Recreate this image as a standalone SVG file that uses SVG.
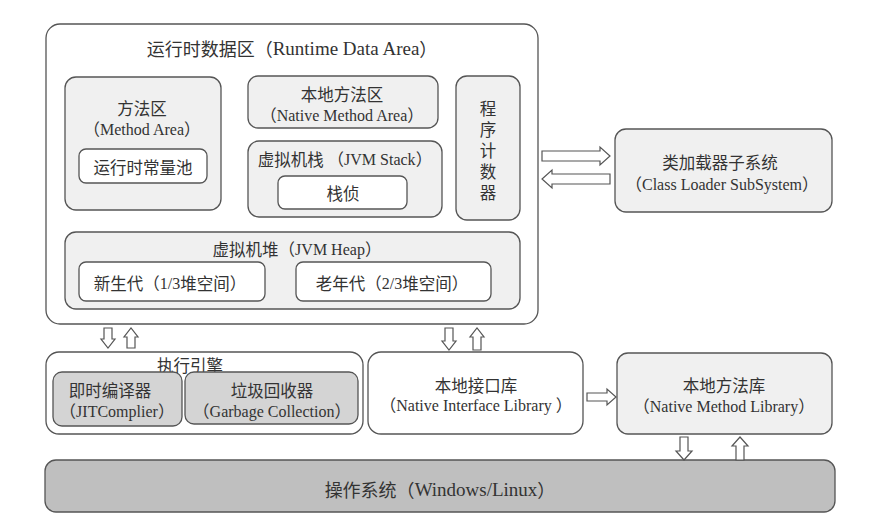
<svg xmlns="http://www.w3.org/2000/svg" width="892" height="530" viewBox="0 0 892 530">
<style>
.b{stroke:#555;stroke-width:1.3}
.w{fill:#fff}
.l{fill:#f0f0f0}
.g{fill:#d4d4d4}
.os{fill:#bfbfbf}
text{font-family:"Noto Sans CJK SC",sans-serif;font-size:16.5px;fill:#333;text-anchor:middle;dominant-baseline:central}
.e{font-family:"Liberation Serif","DejaVu Serif",serif;font-size:16px}
.t{font-size:18px}
.t .e{font-size:19px}
.v{writing-mode:vertical-rl;letter-spacing:4.5px}
.a{fill:#fff;stroke:#555;stroke-width:1.2}
</style>
<rect width="892" height="530" fill="#fff"/>
<g id="runtime">
<rect class="b w" x="46" y="24" width="492" height="300" rx="14"/>
<text class="t" x="292" y="48">运行时数据区（<tspan class="e">Runtime Data Area</tspan>）</text>
</g>
<g id="method-area">
<rect class="b l" x="65" y="77" width="156" height="133" rx="11"/>
<text x="142" y="108">方法区</text>
<text x="142" y="129">（<tspan class="e">Method Area</tspan>）</text>
</g>
<g id="constant-pool">
<rect class="b w" x="79" y="149" width="128" height="34" rx="7"/>
<text x="143" y="167">运行时常量池</text>
</g>
<g id="native-method-area">
<rect class="b l" x="248" y="76" width="190" height="52" rx="10"/>
<text x="342" y="94">本地方法区</text>
<text x="342" y="115">（<tspan class="e">Native Method Area</tspan>）</text>
</g>
<g id="jvm-stack">
<rect class="b l" x="248" y="141" width="194" height="76" rx="11"/>
<text x="345" y="159">虚拟机栈 （<tspan class="e">JVM Stack</tspan>）</text>
</g>
<g id="stack-frame">
<rect class="b w" x="278" y="176" width="129" height="33" rx="7"/>
<text x="343" y="193">栈侦</text>
</g>
<g id="pc">
<rect class="b l" x="456" y="76" width="64" height="144" rx="11"/>
<text class="v" x="488" y="153">程序计数器</text>
</g>
<g id="heap">
<rect class="b l" x="65" y="232" width="455" height="77" rx="11"/>
<text x="297" y="249">虚拟机堆（<tspan class="e">JVM Heap</tspan>）</text>
</g>
<g id="young">
<rect class="b w" x="79" y="262" width="186" height="39" rx="7"/>
<text x="170" y="283">新生代（<tspan class="e">1/3</tspan>堆空间）</text>
</g>
<g id="old">
<rect class="b w" x="296" y="262" width="195" height="39" rx="7"/>
<text x="392" y="283">老年代（<tspan class="e">2/3</tspan>堆空间）</text>
</g>
<g id="class-loader">
<rect class="b l" x="615" y="129" width="217" height="83" rx="11"/>
<text x="720" y="162">类加载器子系统</text>
<text x="722" y="184">（<tspan class="e">Class Loader SubSystem</tspan>）</text>
</g>
<g id="exec-engine">
<rect class="b w" x="46" y="352" width="317" height="82" rx="13"/>
<text x="190" y="365">执行引擎</text>
</g>
<g id="jit">
<rect class="b g" x="53" y="372" width="129" height="54" rx="9"/>
<text x="110" y="390">即时编译器</text>
<text x="117" y="411">（<tspan class="e">JITComplier</tspan>）</text>
</g>
<g id="gc">
<rect class="b g" x="185" y="372" width="173" height="52" rx="9"/>
<text x="272" y="390">垃圾回收器</text>
<text x="272" y="411">（<tspan class="e">Garbage Collection</tspan>）</text>
</g>
<g id="native-interface">
<rect class="b w" x="368" y="352" width="215" height="82" rx="13"/>
<text x="476" y="385">本地接口库</text>
<text x="476" y="405">（<tspan class="e">Native Interface Library </tspan>）</text>
</g>
<g id="native-method-library">
<rect class="b l" x="617" y="353" width="215" height="81" rx="11"/>
<text x="724" y="385">本地方法库</text>
<text x="724" y="406">（<tspan class="e">Native Method Library</tspan>）</text>
</g>
<g id="os">
<rect class="b os" x="45" y="460" width="790" height="52" rx="11"/>
<text class="t" x="440" y="489">操作系统（<tspan class="e">Windows/Linux</tspan>）</text>
</g>
<g id="connectors">
<polygon class="a" points="542,151 600,151 600,147 610,156 600,165 600,161 542,161"/>
<polygon class="a" points="610,174 552,174 552,170 542,179 552,188 552,184 610,184"/>
<polygon class="a" points="104,328 112,328 112,339 115,339 108,348 101,339 104,339"/>
<polygon class="a" points="127,348 135,348 135,337 138,337 131,328 124,337 127,337"/>
<polygon class="a" points="445,328 453,328 453,341 456,341 449,350 442,341 445,341"/>
<polygon class="a" points="473,350 481,350 481,337 484,337 477,328 470,337 473,337"/>
<polygon class="a" points="587,393 607,393 607,389 616,397 607,405 607,401 587,401"/>
<polygon class="a" points="680,437 688,437 688,451 692,451 684,460 676,451 680,451"/>
<polygon class="a" points="736,460 744,460 744,446 748,446 740,437 732,446 736,446"/>
</g>
</svg>
